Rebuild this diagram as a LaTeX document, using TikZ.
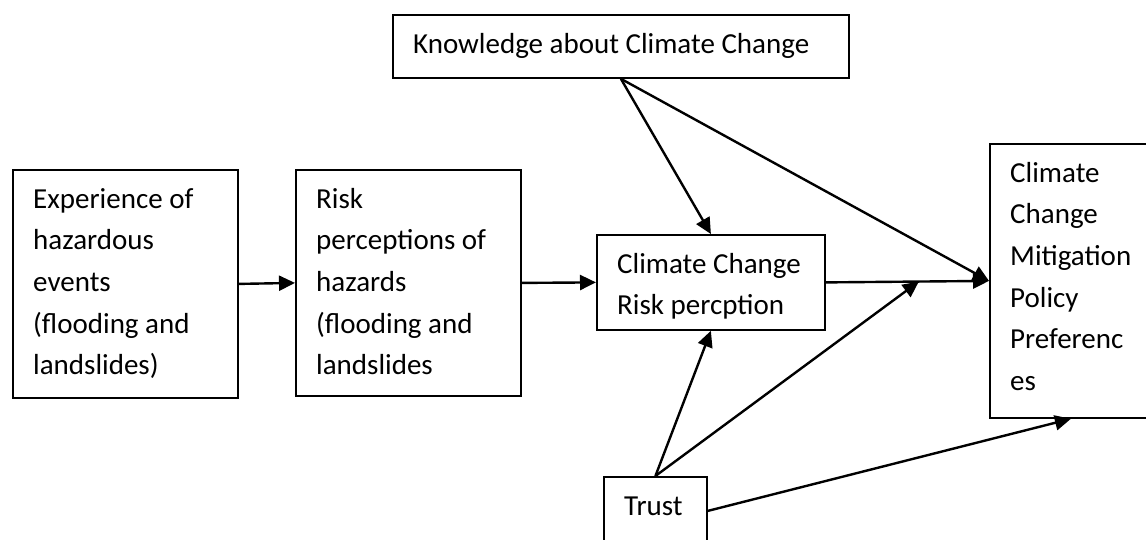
\documentclass[tikz,border=0pt]{standalone}
\usepackage{fontspec}
\setmainfont{Carlito}
\usetikzlibrary{arrows.meta,calc}
\begin{document}
\begin{tikzpicture}[x=1pt,y=-1pt,
  box/.style={draw, line width=1.8pt, inner sep=0pt, anchor=north west},
  boxtext/.style={anchor=base west, inner sep=0pt, font=\fontsize{29}{41.7}\selectfont},
  link/.style={line width=2.4pt, -{Triangle[length=16pt,width=15pt]}}]
\useasboundingbox (0,0) rectangle (1146,539);
\clip (0,0) rectangle (1146,539);

% boxes
\node[box, minimum width=225pt, minimum height=228pt] (exp)   at (12,169)  {};
\node[box, minimum width=225pt, minimum height=226pt] (risk)  at (295,169) {};
\node[box, minimum width=456pt, minimum height=63pt]  (know)  at (392,14)  {};
\node[box, minimum width=228pt, minimum height=95pt]  (ccrp)  at (596,234) {};
\node[box, minimum width=162pt, minimum height=274pt] (mpp)   at (989,143) {};
\node[box, minimum width=103pt, minimum height=68pt]  (trust) at (603,476) {};

% box texts, first baseline 39 below the top edge
\node[boxtext] (expT) at ($(exp.north west)+(21,39)$)
  {\begin{tabular}[t]{@{}l@{}}Experience of\\hazardous\\events\\(flooding and\\landslides)\end{tabular}};
\node[boxtext] (riskT) at ($(risk.north west)+(21,39)$)
  {\begin{tabular}[t]{@{}l@{}}Risk\\perceptions of\\hazards\\(flooding and\\landslides\end{tabular}};
\node[boxtext] (knowT) at ($(know.north west)+(21,39)$) {Knowledge about Climate Change};
\node[boxtext] (ccrpT) at ($(ccrp.north west)+(21,39)$)
  {\begin{tabular}[t]{@{}l@{}}Climate Change\\Risk percption\end{tabular}};
\node[boxtext] (mppT) at ($(mpp.north west)+(21,39)$)
  {\begin{tabular}[t]{@{}l@{}}Climate\\Change\\Mitigation\\Policy\\Preferenc\\es\end{tabular}};
\node[boxtext] (trustT) at ($(trust.north west)+(21,39)$) {Trust};

% connectors
\draw[link] (exp.east) -- (risk.west);
\draw[link] (risk.east) -- (ccrp.west);
\draw[link] (ccrp.east) -- (mpp.west);
\draw[link] (know.south) -- (ccrp.north);
\draw[link] (know.south) -- (mpp.west);
\draw[link] (trust.north) -- (ccrp.south);
\coordinate (join) at ($(ccrp.east)!0.57!(mpp.west)$);
\draw[link] (trust.north) -- (join);
\draw[link] (trust.east) -- (mpp.south);
\end{tikzpicture}
\end{document}
